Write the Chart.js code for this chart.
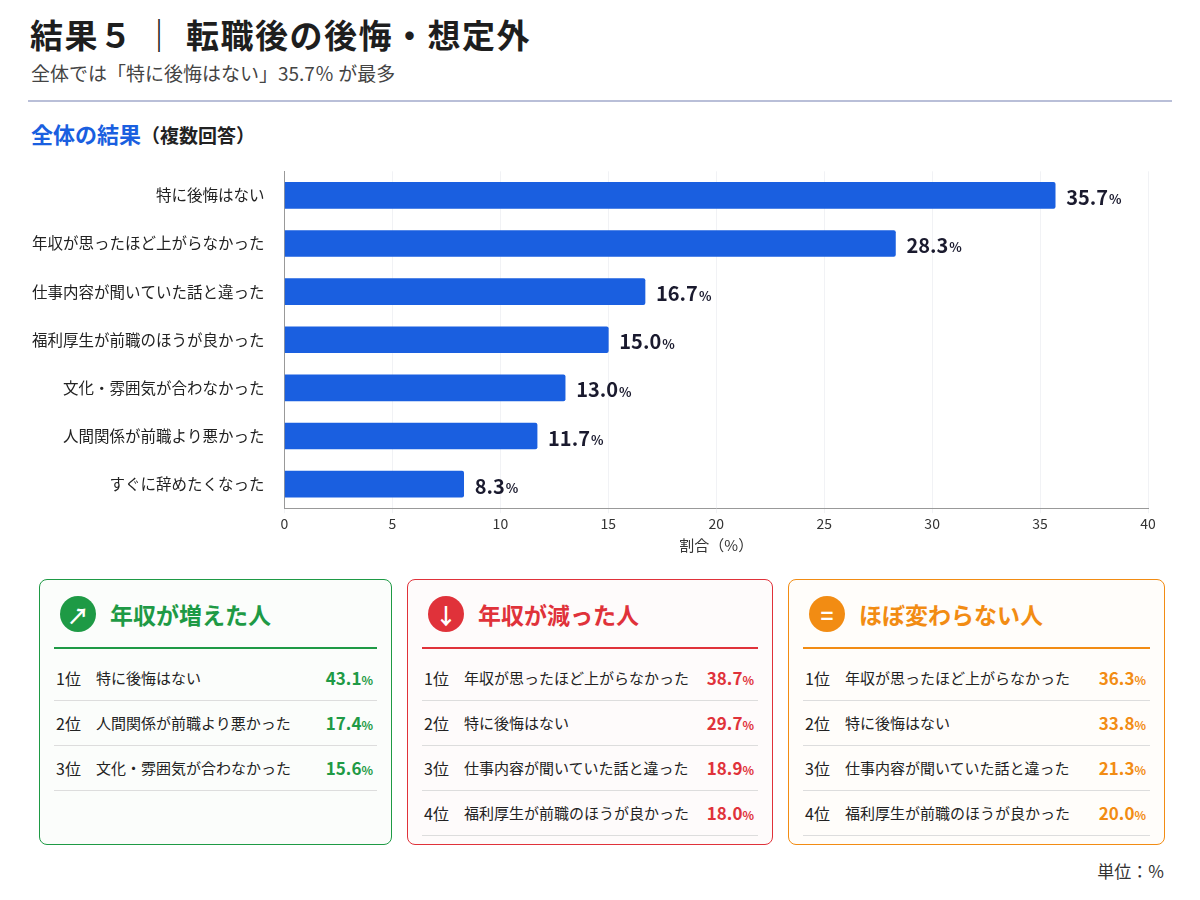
<!DOCTYPE html>
<html><head><meta charset="utf-8">
<script src="https://cdn.jsdelivr.net/npm/chart.js@4/dist/chart.umd.min.js"></script>
<style>
body{margin:0;width:1200px;height:900px;background:#fff;font-family:"Noto Sans CJK JP","Noto Sans",sans-serif;position:relative;overflow:hidden;color:#222}
.t{position:absolute;white-space:nowrap}
#title{left:30px;top:10px;font-size:33px;font-weight:700;color:#1e1e1e;letter-spacing:1.5px}
#sub{left:31px;top:59px;font-size:19px;color:#444}
#hr{position:absolute;left:28px;top:100px;width:1144px;height:2px;background:#b9bfd8}
#sec{left:31px;top:117px;font-size:22px;font-weight:700;color:#1a5fe0}
#sec span{color:#222;font-size:19px}
#cw{position:absolute;left:20px;top:150px;width:1140px;height:408px}
.card{position:absolute;top:579px;height:266px;border:1.5px solid;border-radius:8px;box-sizing:border-box}
.card .h{position:absolute;left:20px;top:16px;font-size:23px;font-weight:700;display:flex;align-items:center}
.card .ic{width:36px;height:36px;border-radius:50%;color:#fff;display:inline-flex;align-items:center;justify-content:center;font-size:22px;margin-right:14px}
.card .ln{position:absolute;left:14px;right:14px;top:67px;height:2px}
.row{position:absolute;left:14px;right:14px;height:45px;border-bottom:1px solid #ddd;font-size:15px;display:flex;align-items:center}
.row .r{width:40px;padding-left:2px;font-size:16px}
.row .v{margin-left:auto;font-weight:700;font-size:17px;padding-right:4px}
.row .v small{font-size:12px}
#unit{right:36px;top:858px;font-size:17px;color:#333}
</style></head><body>
<div class="t" id="title">結果５ ｜ 転職後の後悔・想定外</div>
<div class="t" id="sub">全体では「特に後悔はない」35.7％ が最多</div>
<div id="hr"></div>
<div class="t" id="sec">全体の結果<span>（複数回答）</span></div>
<div id="cw"><canvas id="c"></canvas></div>
<div id="cards"></div>
<div class="t" id="unit">単位：%</div>
<script>
const categories=["特に後悔はない","年収が思ったほど上がらなかった","仕事内容が聞いていた話と違った","福利厚生が前職のほうが良かった","文化・雰囲気が合わなかった","人間関係が前職より悪かった","すぐに辞めたくなった"];
const values=[35.7,28.3,16.7,15.0,13.0,11.7,8.3];
const xTicks=[0,5,10,15,20,25,30,35,40];
const xTitle="割合（%）";
const upLabels=["特に後悔はない","人間関係が前職より悪かった","文化・雰囲気が合わなかった"];
const upValues=[43.1,17.4,15.6];
const downLabels=["年収が思ったほど上がらなかった","特に後悔はない","仕事内容が聞いていた話と違った","福利厚生が前職のほうが良かった"];
const downValues=[38.7,29.7,18.9,18.0];
const flatLabels=["年収が思ったほど上がらなかった","特に後悔はない","仕事内容が聞いていた話と違った","福利厚生が前職のほうが良かった"];
const flatValues=[36.3,33.8,21.3,20.0];

const cardDefs=[
 {left:39,w:353,col:"#1e9a45",title:"年収が増えた人",icon:"↗",labels:upLabels,values:upValues,bg:"#fbfdfb"},
 {left:407,w:366,col:"#e0323a",title:"年収が減った人",icon:"↓",labels:downLabels,values:downValues,bg:"#fefbfb"},
 {left:788,w:377,col:"#f28c13",title:"ほぼ変わらない人",icon:"=",labels:flatLabels,values:flatValues,bg:"#fffdfa"}];
let html="";
cardDefs.forEach(d=>{
 html+=`<div class="card" style="left:${d.left}px;width:${d.w}px;border-color:${d.col};background:${d.bg}">
 <div class="h" style="color:${d.col}"><span class="ic" style="background:${d.col}">${d.icon}</span>${d.title}</div>
 <div class="ln" style="background:${d.col}"></div>`;
 d.labels.forEach((l,i)=>{
  html+=`<div class="row" style="top:${75+i*45}px"><span class="r">${i+1}位</span><span>${l}</span><span class="v" style="color:${d.col}">${d.values[i].toFixed(1)}<small>%</small></span></div>`;
 });
 html+=`</div>`;
});
document.getElementById('cards').innerHTML=html;

const labelPlugin={id:'vl',afterDatasetsDraw(ch){
 const ctx=ch.ctx;const m=ch.getDatasetMeta(0);
 ctx.save();ctx.fillStyle="#1a1a2e";ctx.textBaseline="middle";
 m.data.forEach((b,i)=>{
  const s=values[i].toFixed(1);
  ctx.font="700 20px 'Noto Sans CJK JP'";
  const x=b.x+11;ctx.fillText(s,x,b.y+2);
  const w=ctx.measureText(s).width;
  ctx.font="700 13px 'Noto Sans CJK JP'";ctx.fillText("%",x+w+1,b.y+4);
 });ctx.restore();}};

new Chart(document.getElementById('c'),{type:'bar',
 data:{labels:categories,datasets:[{data:values,backgroundColor:"#1a5fe0",borderRadius:2,barThickness:26}]},
 options:{indexAxis:'y',responsive:true,maintainAspectRatio:false,animation:false,
  layout:{padding:{top:12,right:12,left:0,bottom:0}},
  plugins:{legend:{display:false},tooltip:{enabled:false}},
  scales:{
   x:{min:0,max:40,afterBuildTicks:a=>{a.ticks=xTicks.map(v=>({value:v}))},
      grid:{color:"#f1f2f5",drawTicks:true,tickLength:5},border:{color:"#999"},
      ticks:{color:"#333",font:{size:14,family:"Noto Sans CJK JP"},padding:2},
      title:{display:true,text:xTitle,color:"#333",font:{size:15,family:"Noto Sans CJK JP"},padding:{top:2}}},
   y:{grid:{display:false},border:{color:"#999"},
      ticks:{color:"#222",font:{size:15.5,family:"Noto Sans CJK JP"},padding:12}}
  }}, plugins:[labelPlugin]});
</script></body></html>
